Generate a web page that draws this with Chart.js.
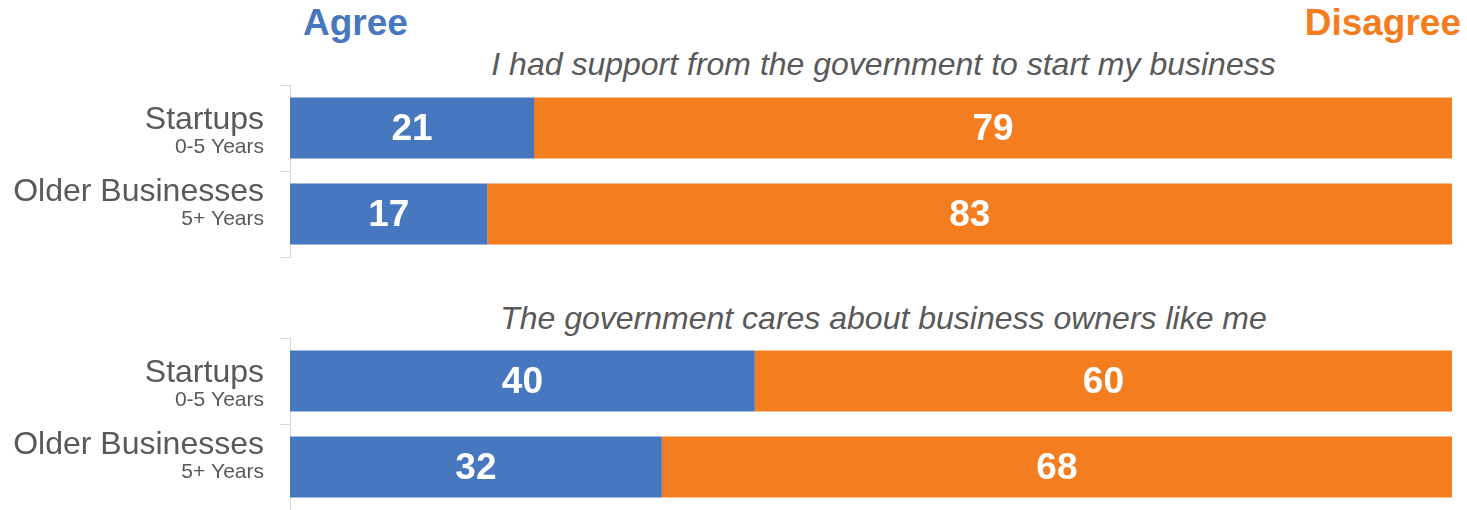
<!DOCTYPE html>
<html>
<head>
<meta charset="utf-8">
<script src="https://cdn.jsdelivr.net/npm/chart.js@4/dist/chart.umd.min.js"></script>
<style>
  body { margin: 0; background: #fff; font-family: "Liberation Sans", Arial, sans-serif; }
  #page { position: relative; width: 1467px; height: 510px; overflow: hidden; }
  .head { position: absolute; top: 1px; font-weight: bold; font-size: 37px; line-height: 44px; }
  .question { position: absolute; left: 290px; width: 1187px; text-align: center; font-style: italic;
              font-size: 32px; line-height: 36px; color: #595959; }
  .panel { position: absolute; left: 0; width: 1467px; height: 174px; }
</style>
</head>
<body>
<div id="page">
  <div class="head" style="left:303px;color:#4677bf">Agree</div>
  <div class="head" style="right:6px;color:#f47d20">Disagree</div>
  <div class="question" id="q1" style="top:46px"></div>
  <div class="question" id="q2" style="top:300px"></div>
  <div class="panel" style="top:84px"><canvas id="c1"></canvas></div>
  <div class="panel" style="top:337px"><canvas id="c2"></canvas></div>
</div>
<script>
const categories = ['Startups', 'Older Businesses'];
const ageGroups = ['0-5 Years', '5+ Years'];
const questions = [
  'I had support from the government to start my business',
  'The government cares about business owners like me'
];
const supportAgree = [21, 17];
const supportDisagree = [79, 83];
const caresAgree = [40, 32];
const caresDisagree = [60, 68];

const blue = '#4677bf';
const orange = '#f47d20';

document.getElementById('q1').textContent = questions[0];
document.getElementById('q2').textContent = questions[1];

// numbers inside the bars
const valueLabels = {
  id: 'valueLabels',
  afterDatasetsDraw(chart) {
    const ctx = chart.ctx;
    ctx.save();
    ctx.font = 'bold 37px "Liberation Sans", Arial';
    ctx.fillStyle = '#fff';
    ctx.textAlign = 'center';
    ctx.textBaseline = 'middle';
    chart.data.datasets.forEach((ds, i) => {
      chart.getDatasetMeta(i).data.forEach((bar, j) => {
        const x = (bar.x + bar.base) / 2;
        ctx.fillText(ds.data[j], x, bar.y + 2);
      });
    });
    ctx.restore();
  }
};

// two-line category labels on the left
const categoryLabels = {
  id: 'categoryLabels',
  afterDraw(chart) {
    const ctx = chart.ctx;
    const y = chart.scales.y;
    const shift = [1, -13];
    ctx.save();
    ctx.fillStyle = '#595959';
    ctx.textAlign = 'right';
    ctx.textBaseline = 'alphabetic';
    categories.forEach((c, i) => {
      const cy = y.getPixelForValue(i) + shift[i];
      ctx.font = '32px "Liberation Sans", Arial';
      ctx.fillText(c, 264, cy);
      ctx.font = '21px "Liberation Sans", Arial';
      ctx.fillText(ageGroups[i], 264, cy + 24);
    });
    ctx.restore();
  }
};

function makeChart(id, agree, disagree) {
  new Chart(document.getElementById(id), {
    type: 'bar',
    data: {
      labels: categories,
      datasets: [
        { label: 'Agree', data: agree, backgroundColor: blue },
        { label: 'Disagree', data: disagree, backgroundColor: orange }
      ]
    },
    options: {
      indexAxis: 'y',
      responsive: true,
      maintainAspectRatio: false,
      animation: false,
      categoryPercentage: 1,
      barPercentage: 0.71,
      layout: { padding: { top: 1, bottom: 1, right: 15, left: 0 } },
      plugins: { legend: { display: false }, tooltip: { enabled: false } },
      scales: {
        x: { stacked: true, min: 0, max: 100, display: false },
        y: {
          stacked: true,
          ticks: { display: false },
          grid: { drawOnChartArea: false, tickLength: 10, color: '#d9d9d9', offset: true },
          border: { color: '#d9d9d9' },
          afterFit(scale) { scale.width = 290; }
        }
      }
    },
    plugins: [valueLabels, categoryLabels]
  });
}

makeChart('c1', supportAgree, supportDisagree);
makeChart('c2', caresAgree, caresDisagree);
</script>
</body>
</html>
